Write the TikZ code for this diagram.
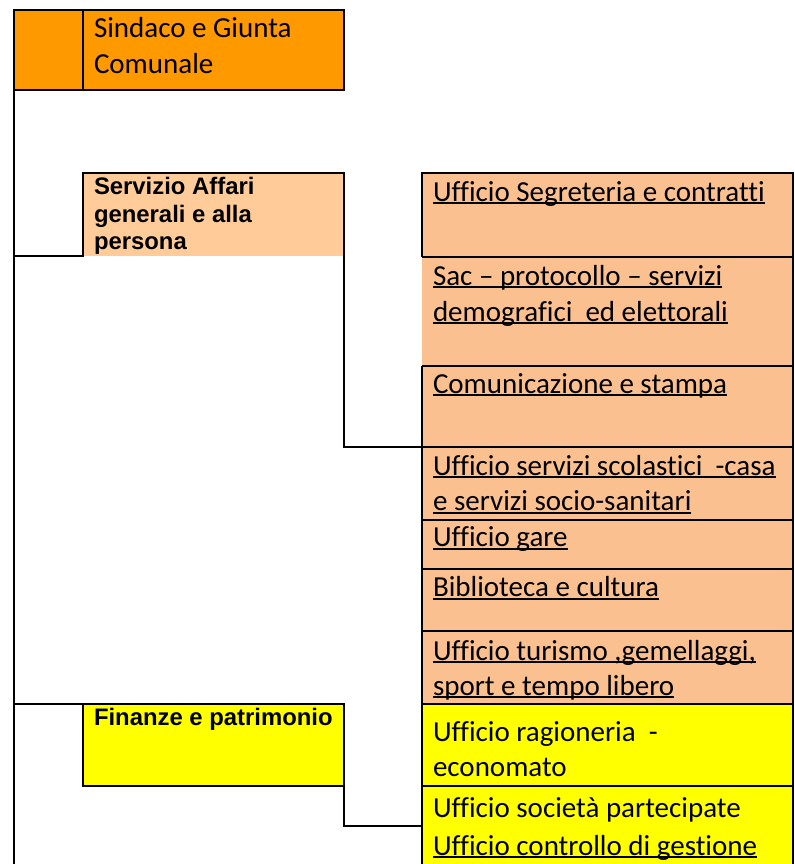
\documentclass[tikz,border=0pt]{standalone}
\usepackage{fontspec}
\setmainfont{Carlito}[Ligatures=NoCommon]
\newfontfamily\arialfont{Liberation Sans}
\newcommand\myul[1]{\setbox0\hbox{#1}\rlap{\rule[-2.5pt]{\wd0}{1.5pt}}\box0}
\definecolor{topor}{HTML}{FF9900}
\definecolor{servfill}{HTML}{FFCC99}
\definecolor{peach}{HTML}{FAC090}
\definecolor{yel}{HTML}{FFFF00}
\begin{document}
\begin{tikzpicture}[x=0.75pt,y=-0.75pt,line width=1.5pt,
  fillbox/.style={draw=none,inner sep=0pt,outer sep=0pt,anchor=north west},
  cal/.style={anchor=base west,inner sep=0pt,font=\fontsize{21.75}{27}\selectfont},
  arb/.style={anchor=base west,inner sep=0pt,font=\arialfont\bfseries\fontsize{17.9}{21}\selectfont}]
\useasboundingbox (0,0) rectangle (794,864);
% filled boxes
\node[fillbox,fill=topor,minimum width=330*0.75pt,minimum height=80*0.75pt] (sindaco) at (14,10) {};
\node[fillbox,fill=servfill,minimum width=261*0.75pt,minimum height=83*0.75pt] (serv) at (83,173) {};
\node[fillbox,fill=yel,minimum width=261*0.75pt,minimum height=82*0.75pt] (fin) at (83,704) {};
\node[fillbox,fill=peach,minimum width=371*0.75pt,minimum height=531*0.75pt] (colA) at (422,173) {};
\node[fillbox,fill=yel,minimum width=371*0.75pt,minimum height=160*0.75pt] (colB) at (422,704) {};
% key coordinates
\coordinate (sdiv) at (83,10);
\coordinate (sdivb) at (83,90);
\coordinate (lbot) at (14,864);
\coordinate (c1) at (14,256);
\coordinate (c2) at (83,256);
\coordinate (c3) at (344,446.5);
\coordinate (c4) at (422,446.5);
\coordinate (f1) at (14,704);
\coordinate (f2) at (344,826);
\coordinate (f3) at (422,826);
\coordinate (r1) at (422,257);
\coordinate (r2) at (422,366);
\coordinate (rb) at (422,864);
\coordinate (rrb) at (793,864);
% borders of top box
\draw (sindaco.north west) rectangle (sindaco.south east);
\draw (sdiv) -- (sdivb);
\draw (sindaco.south west) -- (lbot);
% Servizio box and connector
\draw (c1) -- (c2) -- (serv.north west) -- (serv.north east) -- (c3) -- (c4);
% Finanze box and connector
\draw (f1) -- (fin.north east) -- (f2) -- (f3);
\draw (fin.north west) -- (fin.south west) -- (fin.south east);
% right column
\draw (r1) -- (colA.north west) -- (793,173) -- (rrb);
\draw (r2) -- (rb);
\foreach \yy in {257,366,446.5,520,569,631,704,786}
  \draw (422,\yy) -- (793,\yy);
% texts
\node[cal] (t1a) at (93,37.5) {Sindaco e Giunta};
\node[cal] (t1b) at (93,73) {Comunale};
\node[arb] (t2a) at (93,194) {Servizio Affari};
\node[arb] (t2b) at (93,222) {generali e alla};
\node[arb] (t2c) at (93,249.5) {persona};
\node[arb] (t3a) at (93,725) {Finanze e patrimonio};
\node[cal] (u1) at (432,201) {\myul{Ufficio Segreteria e contratti}};
\node[cal] (u2a) at (432,285) {\myul{Sac -- protocollo -- servizi}};
\node[cal] (u2b) at (432,321) {\myul{demografici\ \ ed elettorali}};
\node[cal] (u3) at (432,393) {\myul{Comunicazione e stampa}};
\node[cal] (u4a) at (432,475) {\myul{Ufficio servizi scolastici\ \ -casa}};
\node[cal] (u4b) at (432,510.5) {\myul{e servizi socio-sanitari}};
\node[cal] (u5) at (432,546.5) {\myul{Ufficio gare}};
\node[cal] (u6) at (432,596.5) {\myul{Biblioteca e cultura}};
\node[cal] (u7a) at (432,660) {\myul{Ufficio turismo ,gemellaggi,}};
\node[cal] (u7b) at (432,695) {\myul{sport e tempo libero}};
\node[cal] (y1a) at (432,741.5) {Ufficio ragioneria\ \ -};
\node[cal] (y1b) at (432,776.5) {economato};
\node[cal] (y2) at (432,817.5) {Ufficio società partecipate};
\node[cal] (y3) at (432,855) {\myul{Ufficio controllo di gestione}};
\end{tikzpicture}
\end{document}
